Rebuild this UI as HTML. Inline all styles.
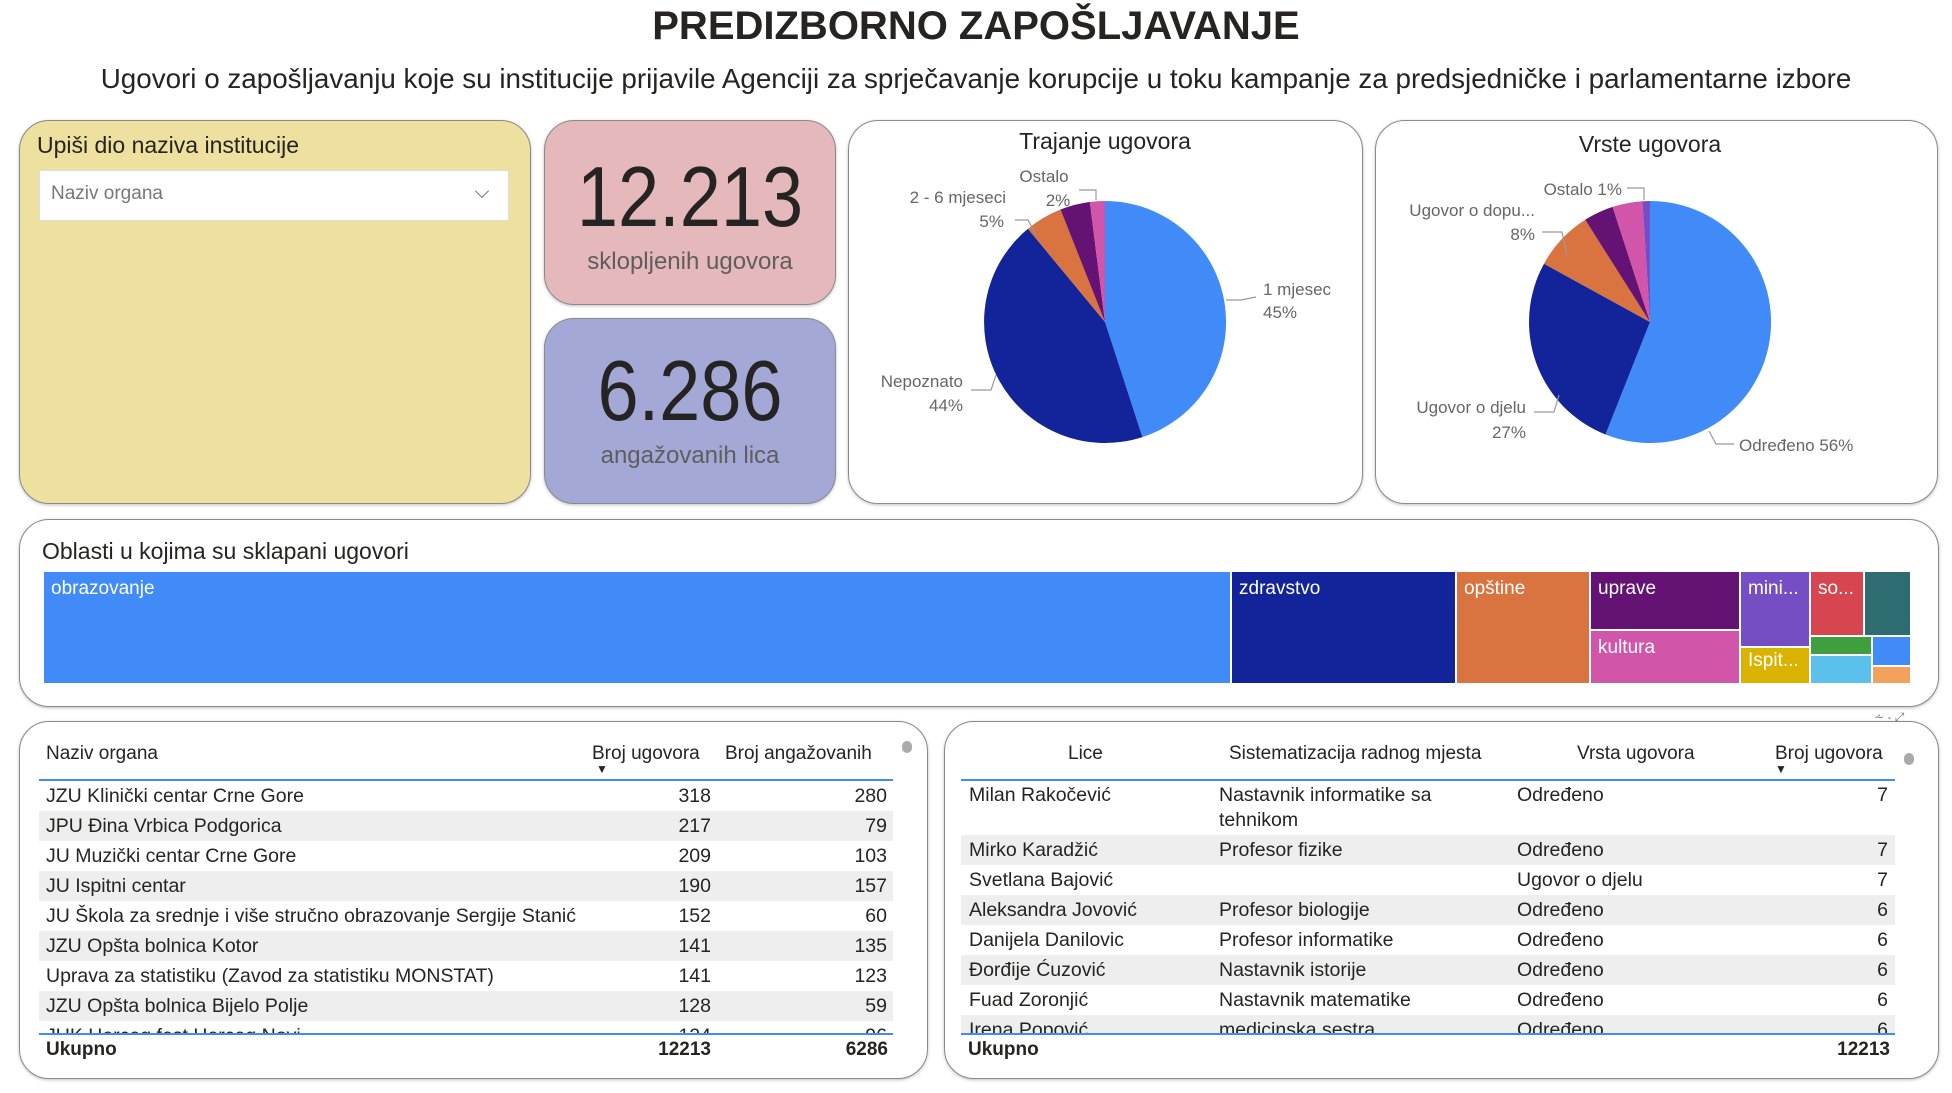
<!DOCTYPE html>
<html><head><meta charset="utf-8"><style>
*{margin:0;padding:0;box-sizing:border-box}
body{width:1952px;height:1093px;background:#fff;position:relative;overflow:hidden;font-family:"Liberation Sans",sans-serif;color:#252423}
.a{position:absolute;white-space:nowrap}
.p{position:absolute;border:1.5px solid #8a8a8a;border-radius:30px;box-shadow:0 1px 3px rgba(0,0,0,.25)}
.r{text-align:right}
.sh{background:#eeeeee}
td{white-space:nowrap;overflow:hidden}
.lab{font-size:17px;fill:#666;font-family:"Liberation Sans",sans-serif}
.tm{position:absolute;color:#fff;font-size:19px;padding:6px 7px;overflow:hidden;white-space:nowrap}
</style></head><body>
<div class="a" style="left:0;width:1952px;top:4px;text-align:center;font-size:40px;font-weight:bold;color:#252423">PREDIZBORNO ZAPOŠLJAVANJE</div>
<div class="a" style="left:0;width:1952px;top:63px;text-align:center;font-size:27.8px;color:#252423">Ugovori o zapošljavanju koje su institucije prijavile Agenciji za sprječavanje korupcije u toku kampanje za predsjedničke i parlamentarne izbore</div>

<div class="p" style="left:19px;top:120px;width:512px;height:384px;background:#EEE09E"></div>
<div class="a" style="left:37px;top:132px;font-size:23px;color:#252423">Upiši dio naziva institucije</div>
<div class="a" style="left:39px;top:170px;width:470px;height:51px;background:#fff;border:1.5px solid #ddd"></div>
<div class="a" style="left:51px;top:183px;font-size:19px;color:#777">Naziv organa</div>
<div class="a" style="left:477px;top:186px;width:10px;height:10px;border-right:1.5px solid #777;border-bottom:1.5px solid #777;transform:rotate(45deg)"></div>

<div class="p" style="left:544px;top:120px;width:292px;height:185px;background:#E5B8BB"></div>
<div class="a" style="left:544px;width:292px;top:148px;text-align:center;font-size:85px;color:#252423;line-height:100px;transform:scaleX(0.87)">12.213</div>
<div class="a" style="left:544px;width:292px;top:248px;text-align:center;font-size:24px;color:#605e5c">sklopljenih ugovora</div>
<div class="p" style="left:544px;top:318px;width:292px;height:186px;background:#A3A8D6"></div>
<div class="a" style="left:544px;width:292px;top:342px;text-align:center;font-size:85px;color:#252423;line-height:100px;transform:scaleX(0.87)">6.286</div>
<div class="a" style="left:544px;width:292px;top:442px;text-align:center;font-size:24px;color:#605e5c">angažovanih lica</div>

<div class="p" style="left:848px;top:120px;width:515px;height:384px;background:#fff"></div>
<div class="p" style="left:1375px;top:120px;width:563px;height:384px;background:#fff"></div>
<svg class="a" style="left:0;top:0" width="1952" height="520">
<g transform="translate(-4,0)">
<text x="1109" y="149" text-anchor="middle" font-size="23" fill="#252423" font-family="Liberation Sans">Trajanje ugovora</text>
<path d="M1109 322 L1109 201 A121 121 0 0 1 1146.4 437.1Z" fill="#418BF9"/>
<path d="M1109 322 L1146.4 437.1 A121 121 0 0 1 1031.9 228.8Z" fill="#13249A"/>
<path d="M1109 322 L1031.9 228.8 A121 121 0 0 1 1064.5 209.5Z" fill="#D9733F"/>
<path d="M1109 322 L1064.5 209.5 A121 121 0 0 1 1093.8 202Z" fill="#641273"/>
<path d="M1109 322 L1093.8 202 A121 121 0 0 1 1109 201Z" fill="#D155A8"/>
<g fill="none" stroke="#999" stroke-width="1.2">
<polyline points="1083,190 1100,190 1100,200"/><polyline points="1019,220 1032,220 1040,235"/>
<polyline points="1230,300 1245,300 1260,297"/><polyline points="975,390 995,390 1000,375"/>
</g>
<text class="lab" x="1048" y="182" text-anchor="middle">Ostalo</text>
<text class="lab" x="1062" y="206" text-anchor="middle">2%</text>
<text class="lab" x="1010" y="203" text-anchor="end">2 - 6 mjeseci</text>
<text class="lab" x="1008" y="227" text-anchor="end">5%</text>
<text class="lab" x="1267" y="295">1 mjesec</text>
<text class="lab" x="1267" y="318">45%</text>
<text class="lab" x="967" y="387" text-anchor="end">Nepoznato</text>
<text class="lab" x="967" y="411" text-anchor="end">44%</text>
</g>
<g transform="translate(-6,0)">
<text x="1656" y="152" text-anchor="middle" font-size="23" fill="#252423" font-family="Liberation Sans">Vrste ugovora</text>
<path d="M1656 322 L1656 201 A121 121 0 1 1 1611.5 434.5Z" fill="#418BF9"/>
<path d="M1656 322 L1611.5 434.5 A121 121 0 0 1 1550 263.7Z" fill="#13249A"/>
<path d="M1656 322 L1550 263.7 A121 121 0 0 1 1591.2 219.8Z" fill="#D9733F"/>
<path d="M1656 322 L1591.2 219.8 A121 121 0 0 1 1618.6 206.9Z" fill="#641273"/>
<path d="M1656 322 L1618.6 206.9 A121 121 0 0 1 1648.4 201.2Z" fill="#D155A8"/>
<path d="M1656 322 L1648.4 201.2 A121 121 0 0 1 1656 201Z" fill="#744EC2"/>
<g fill="none" stroke="#999" stroke-width="1.2">
<polyline points="1633,188 1650,188 1650,200"/><polyline points="1548,232 1568,232 1573,255"/>
<polyline points="1540,412 1560,412 1565,395"/><polyline points="1715,431 1722,444 1740,444"/>
</g>
<text class="lab" x="1628" y="195" text-anchor="end">Ostalo 1%</text>
<text class="lab" x="1541" y="216" text-anchor="end">Ugovor o dopu...</text>
<text class="lab" x="1541" y="240" text-anchor="end">8%</text>
<text class="lab" x="1532" y="413" text-anchor="end">Ugovor o djelu</text>
<text class="lab" x="1532" y="438" text-anchor="end">27%</text>
<text class="lab" x="1745" y="451">Određeno 56%</text>
</g>
</svg>

<div class="p" style="left:19px;top:519px;width:1920px;height:188px;background:#fff"></div>
<div class="a" style="left:42px;top:538px;font-size:23px;color:#252423">Oblasti u kojima su sklapani ugovori</div>
<div class="tm" style="left:44px;top:572px;width:1186px;height:111px;background:#418BF9">obrazovanje</div>
<div class="tm" style="left:1232px;top:572px;width:223px;height:111px;background:#13249A">zdravstvo</div>
<div class="tm" style="left:1457px;top:572px;width:132px;height:111px;background:#D9733F">opštine</div>
<div class="tm" style="left:1591px;top:572px;width:148px;height:57px;background:#641273">uprave</div>
<div class="tm" style="left:1591px;top:631px;width:148px;height:52px;background:#D155A8">kultura</div>
<div class="tm" style="left:1741px;top:572px;width:68px;height:74px;background:#744EC2">mini...</div>
<div class="tm" style="left:1741px;top:648px;width:68px;height:35px;background:#D9B300;padding-top:2px">Ispit...</div>
<div class="tm" style="left:1811px;top:572px;width:52px;height:63px;background:#D64550">so...</div>
<div class="tm" style="left:1865px;top:572px;width:45px;height:63px;background:#2E6C72"></div>
<div class="tm" style="left:1811px;top:637px;width:60px;height:17px;background:#3F9F3F"></div>
<div class="tm" style="left:1811px;top:656px;width:60px;height:27px;background:#5BC0EB"></div>
<div class="tm" style="left:1873px;top:637px;width:37px;height:28px;background:#418BF9"></div>
<div class="tm" style="left:1873px;top:667px;width:37px;height:16px;background:#F2A25D"></div>

<div class="p" style="left:19px;top:721px;width:909px;height:358px;background:#fff"></div>
<div class="a" style="left:46px;top:743px;font-size:19px">Naziv organa</div>
<div class="a" style="left:592px;top:743px;font-size:19px">Broj ugovora</div>
<div class="a" style="left:725px;top:743px;font-size:19px">Broj angažovanih</div>
<div class="a" style="left:596px;top:762px;font-size:12px">▼</div>
<div class="a" style="left:902px;top:741px;width:10px;height:12px;border-radius:5px;background:#aaa"></div>
<div class="a" style="left:39px;top:779px;width:854px;height:2px;background:#418BF9"></div>
<div class="a" style="left:39px;top:781px;width:854px;height:253px;overflow:hidden">
<table style="border-collapse:collapse;table-layout:fixed;width:854px;font-size:19.5px;line-height:30px">
<colgroup><col style="width:580px"><col style="width:92px"><col style="width:182px"></colgroup>
<tr><td style="padding-left:7px">JZU Klinički centar Crne Gore</td><td class="r">318</td><td class="r" style="padding-right:6px">280</td></tr>
<tr class="sh"><td style="padding-left:7px">JPU Đina Vrbica Podgorica</td><td class="r">217</td><td class="r" style="padding-right:6px">79</td></tr>
<tr><td style="padding-left:7px">JU Muzički centar Crne Gore</td><td class="r">209</td><td class="r" style="padding-right:6px">103</td></tr>
<tr class="sh"><td style="padding-left:7px">JU Ispitni centar</td><td class="r">190</td><td class="r" style="padding-right:6px">157</td></tr>
<tr><td style="padding-left:7px">JU Škola za srednje i više stručno obrazovanje Sergije Stanić</td><td class="r">152</td><td class="r" style="padding-right:6px">60</td></tr>
<tr class="sh"><td style="padding-left:7px">JZU Opšta bolnica Kotor</td><td class="r">141</td><td class="r" style="padding-right:6px">135</td></tr>
<tr><td style="padding-left:7px">Uprava za statistiku (Zavod za statistiku MONSTAT)</td><td class="r">141</td><td class="r" style="padding-right:6px">123</td></tr>
<tr class="sh"><td style="padding-left:7px">JZU Opšta bolnica Bijelo Polje</td><td class="r">128</td><td class="r" style="padding-right:6px">59</td></tr>
<tr><td style="padding-left:7px">JUK Herceg fest Herceg Novi</td><td class="r">124</td><td class="r" style="padding-right:6px">96</td></tr>
</table></div>
<div class="a" style="left:39px;top:1033px;width:854px;height:2px;background:#418BF9"></div>
<div class="a" style="left:46px;top:1039px;font-size:19px;font-weight:bold">Ukupno</div>
<div class="a r" style="left:600px;width:111px;top:1039px;font-size:19px;font-weight:bold">12213</div>
<div class="a r" style="left:778px;width:110px;top:1039px;font-size:19px;font-weight:bold">6286</div>

<div class="a" style="left:1874px;top:710px;font-size:12px;color:#777">⩪ - ⤢</div>
<div class="p" style="left:944px;top:721px;width:995px;height:358px;background:#fff"></div>
<div class="a" style="left:1068px;top:743px;font-size:19px">Lice</div>
<div class="a" style="left:1229px;top:743px;font-size:19px">Sistematizacija radnog mjesta</div>
<div class="a" style="left:1577px;top:743px;font-size:19px">Vrsta ugovora</div>
<div class="a" style="left:1775px;top:743px;font-size:19px">Broj ugovora</div>
<div class="a" style="left:1775px;top:762px;font-size:12px">▼</div>
<div class="a" style="left:1904px;top:753px;width:10px;height:12px;border-radius:5px;background:#aaa"></div>
<div class="a" style="left:961px;top:779px;width:934px;height:2px;background:#418BF9"></div>
<div class="a" style="left:961px;top:781px;width:934px;height:253px;overflow:hidden">
<table style="border-collapse:collapse;table-layout:fixed;width:934px;line-height:25px;font-size:19.5px">
<colgroup><col style="width:250px"><col style="width:298px"><col style="width:300px"><col style="width:86px"></colgroup>
<tr style="height:54px;vertical-align:top"><td style="padding:2px 8px">Milan Rakočević</td><td style="padding:2px 8px">Nastavnik informatike sa<br>tehnikom</td><td style="padding:2px 8px">Određeno</td><td class="r" style="padding:2px 7px">7</td></tr>
<tr class="sh" style="height:30px"><td style="padding:0 8px">Mirko Karadžić</td><td style="padding:0 8px">Profesor fizike</td><td style="padding:0 8px">Određeno</td><td class="r" style="padding:0 7px">7</td></tr>
<tr style="height:30px"><td style="padding:0 8px">Svetlana Bajović</td><td></td><td style="padding:0 8px">Ugovor o djelu</td><td class="r" style="padding:0 7px">7</td></tr>
<tr class="sh" style="height:30px"><td style="padding:0 8px">Aleksandra Jovović</td><td style="padding:0 8px">Profesor biologije</td><td style="padding:0 8px">Određeno</td><td class="r" style="padding:0 7px">6</td></tr>
<tr style="height:30px"><td style="padding:0 8px">Danijela Danilovic</td><td style="padding:0 8px">Profesor informatike</td><td style="padding:0 8px">Određeno</td><td class="r" style="padding:0 7px">6</td></tr>
<tr class="sh" style="height:30px"><td style="padding:0 8px">Đorđije Ćuzović</td><td style="padding:0 8px">Nastavnik istorije</td><td style="padding:0 8px">Određeno</td><td class="r" style="padding:0 7px">6</td></tr>
<tr style="height:30px"><td style="padding:0 8px">Fuad Zoronjić</td><td style="padding:0 8px">Nastavnik matematike</td><td style="padding:0 8px">Određeno</td><td class="r" style="padding:0 7px">6</td></tr>
<tr class="sh" style="height:30px"><td style="padding:0 8px">Irena Popović</td><td style="padding:0 8px">medicinska sestra</td><td style="padding:0 8px">Određeno</td><td class="r" style="padding:0 7px">6</td></tr>
</table></div>
<div class="a" style="left:961px;top:1033px;width:934px;height:2px;background:#418BF9"></div>
<div class="a" style="left:968px;top:1039px;font-size:19px;font-weight:bold">Ukupno</div>
<div class="a r" style="left:1776px;width:114px;top:1039px;font-size:19px;font-weight:bold">12213</div>
</body></html>
